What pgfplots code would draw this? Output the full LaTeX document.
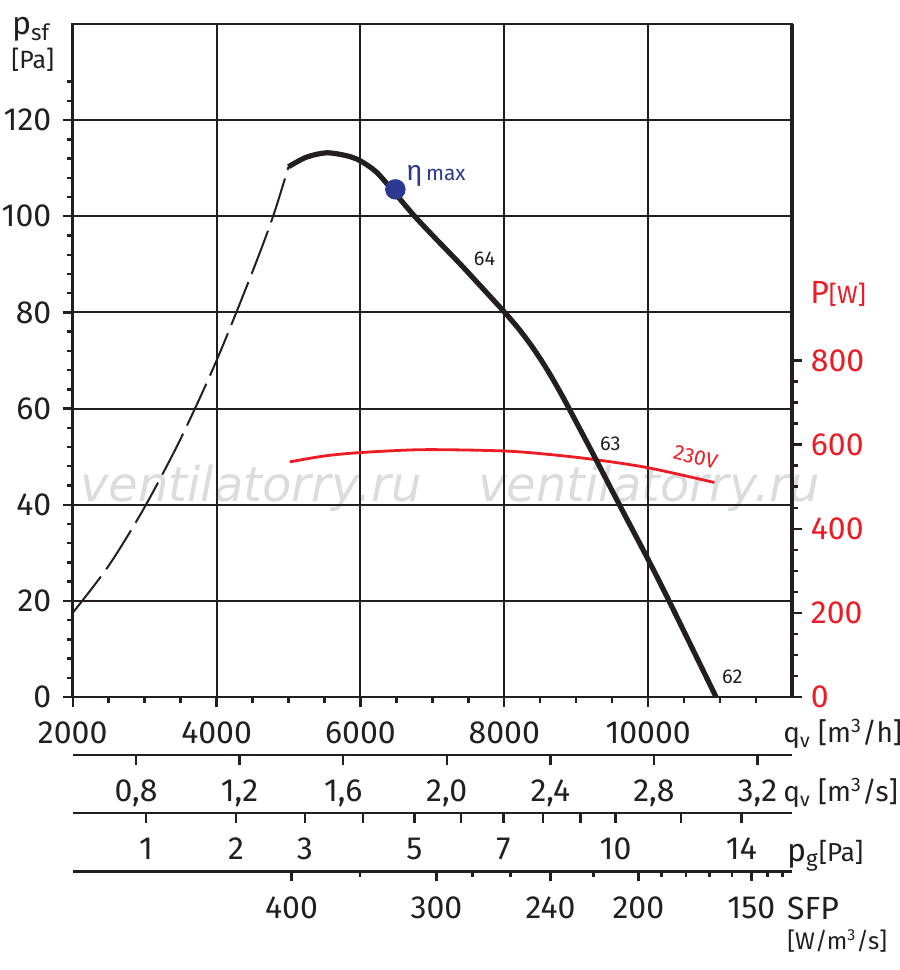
\documentclass[border=0pt]{standalone}
\usepackage{fontspec}
\setmainfont{Fira Sans}
\newfontfamily\wmfont{DejaVu Sans}
\usepackage{pgfplots}
\usepackage{pgfplotstable}
\pgfplotsset{compat=1.18}
\definecolor{cblack}{RGB}{35,31,32}
\definecolor{cred}{RGB}{237,28,36}
\definecolor{cblue}{RGB}{43,57,144}
\definecolor{wm}{RGB}{220,220,220}

\pgfplotstableread{
q p
2000 17.5
2500 27.3
3000 39.5
3500 53.7
4000 70
4500 88.5
4786 100
5000 110.3
}\dashedp

\pgfplotstableread{
q p
5000 110.3
5250 112.3
5528 113.2
5806 112.6
5990 111.6
6222 109.2
6486 104.7
6754 100.0
7050 95.3
7379 90.2
7700 85.0
8000 80.1
8200 76.6
8400 72.6
8600 68.0
8800 62.8
9000 57.2
9254 50.0
9600 40.0
10000 28.6
10300 19.7
10944 0
}\solidp

\pgfplotstableread{
q P
5018 559
5500 573
5990 581
6870 588
7981 585
8600 577
9231 565
10000 545
10921 510
}\powerc

\pgfplotsset{
  base/.style={
    scale only axis, width=359.65pt, xmin=2000, xmax=12000,
    anchor=south west,
    tick style={line width=1.2pt, color=cblack},
    axis line style={line width=1.35pt, color=cblack},
    every tick label/.append style={font=\fontsize{16}{19}\selectfont, inner sep=0pt, text=cblack},
    scaled x ticks=false, scaled y ticks=false,
  },
  sec/.style={base, height=10pt, ymin=0, ymax=1, hide y axis,
    axis x line*=bottom, x axis line style={-},
    tick align=outside, major tick length=4.8pt, minor tick length=2.6pt,
    xticklabel style={anchor=base, yshift=-18.7pt},
  },
}

\begin{document}
\begin{tikzpicture}
\useasboundingbox (0,0) rectangle (450pt,485pt);
% watermark
\node[anchor=base west, inner sep=0pt, text=wm, font=\wmfont\itshape\fontsize{24}{24}\selectfont] at (40pt,234pt) {ventilatorry.ru};
\node[anchor=base west, inner sep=0pt, text=wm, font=\wmfont\itshape\fontsize{24}{24}\selectfont] at (239pt,234pt) {ventilatorry.ru};

% main axis with grid
\begin{axis}[base, at={(36.35pt,136.5pt)}, height=336.5pt,
  ymin=0, ymax=140,
  xtick={2000,4000,6000,8000,10000}, xticklabels={2000,4000,6000,8000,10000},
  minor xtick={2500,3000,...,11500},
  ytick={0,20,...,120}, yticklabels={0,20,40,60,80,100,120},
  minor ytick={4,8,...,128},
  xtick pos=lower, ytick pos=left,
  tick align=outside, major tick length=5pt, minor tick length=2.8pt,
  grid=major, major grid style={line width=1pt, cblack},
  xticklabel style={anchor=base, yshift=-18.5pt},
  yticklabel style={anchor=east, xshift=-5.5pt},
]
\addplot[draw=none] coordinates {(2000,0)};
\end{axis}

% power axis (right)
\begin{axis}[base, at={(36.35pt,136.5pt)}, height=336.5pt,
  ymin=0, ymax=1600,
  hide x axis, axis y line*=right, y axis line style={-, line width=1.6pt},
  ytick={0,200,...,800}, yticklabels={0,200,400,600,800},
  minor ytick={50,100,...,800},
  tick align=outside, major tick length=5pt, minor tick length=2.8pt,
  yticklabel style={anchor=west, xshift=4.25pt, text=cred},
]
\addplot[cred, line width=1.4pt, smooth] table[x=q,y=P] {\powerc};
\end{axis}

% pressure curves overlay
\begin{axis}[base, at={(36.35pt,136.5pt)}, height=336.5pt,
  ymin=0, ymax=140, hide axis, clip=false]
\addplot[cblack, line width=1pt, smooth, dash pattern=on 23pt off 4.5pt] table[x=q,y=p] {\dashedp};
\addplot[cblack, line width=2.6pt, smooth] table[x=q,y=p] {\solidp};
\addplot[only marks, mark=*, mark size=4.9pt, color=cblue] coordinates {(6486,105.6)};
\node[anchor=center, font=\fontsize{10}{12}\selectfont, text=cblack] at (axis cs:7726,91.1) {64};
\node[anchor=center, font=\fontsize{10}{12}\selectfont, text=cblack] at (axis cs:9476,52.6) {63};
\node[anchor=center, font=\fontsize{10}{12}\selectfont, text=cblack] at (axis cs:11171,4.2) {62};
\node[anchor=center, rotate=-14, font=\fontsize{10.5}{12}\selectfont, text=cred] at (axis cs:10660,49.9) {230V};
\node[anchor=base west, inner sep=0pt, text=cblue] at (axis cs:6630,107.5) {{\fontsize{14}{14}\selectfont η}\,{\fontsize{10.5}{12}\selectfont max}};
\end{axis}

% secondary scale: q_v in m3/s
\begin{axis}[sec, at={(36.35pt,107.5pt)},
  xtick={2880,4320,5760,7200,8640,10080,11520},
  xticklabels={{0,8},{1,2},{1,6},{2,0},{2,4},{2,8},{3,2}}]
\addplot[draw=none] coordinates {(2000,0)};
\end{axis}

% secondary scale: p_g in Pa
\begin{axis}[sec, at={(36.35pt,78.5pt)},
  xtick={3019,4270,5229,6038,6751,7395,7988,8539,9057,9547,10458,11296},
  xticklabels={1,2,3,{},5,{},7,{},{},10,{},14}]
\addplot[draw=none] coordinates {(2000,0)};
\end{axis}

% secondary scale: SFP
\begin{axis}[sec, at={(36.35pt,49.15pt)},
  xtick={5042,7056,8643,9865,11435}, xticklabels={400,300,240,200,150},
  minor xtick={5990,7556,8088,9240,10185,10528,10851,11167,11661,11869}]
\addplot[draw=none] coordinates {(2000,0)};
\end{axis}

% axis titles
\node[anchor=base west, inner sep=0pt, text=cblack] at (5.85pt,467.5pt) {\fontsize{16}{19}\selectfont p\textsubscript{sf}};
\node[anchor=base west, inner sep=0pt, text=cblack] at (5.5pt,450.8pt) {\fontsize{12.5}{14}\selectfont [Pa]};
\node[anchor=base west, inner sep=0pt, text=cred] at (405pt,333.35pt) {\fontsize{16}{19}\selectfont P\fontsize{12.5}{14}\selectfont[W]};
\node[anchor=base west, inner sep=0pt, text=cblack] at (391.5pt,113.5pt) {\fontsize{14}{17}\selectfont q\textsubscript{v} [m\textsuperscript{3}/h]};
\node[anchor=base west, inner sep=0pt, text=cblack] at (391.5pt,84.15pt) {\fontsize{14}{17}\selectfont q\textsubscript{v} [m\textsuperscript{3}/s]};
\node[anchor=base west, inner sep=0pt, text=cblack] at (393.35pt,54.15pt) {\fontsize{16}{19}\selectfont p\textsubscript{g}\fontsize{13}{15}\selectfont[Pa]};
\node[anchor=base west, inner sep=0pt, text=cblack] at (393.35pt,25.35pt) {\fontsize{16}{19}\selectfont SFP};
\node[anchor=base west, inner sep=0pt, text=cblack] at (393.5pt,10.35pt) {\fontsize{12}{14}\selectfont [W/m\textsuperscript{3}/s]};
\end{tikzpicture}
\end{document}
